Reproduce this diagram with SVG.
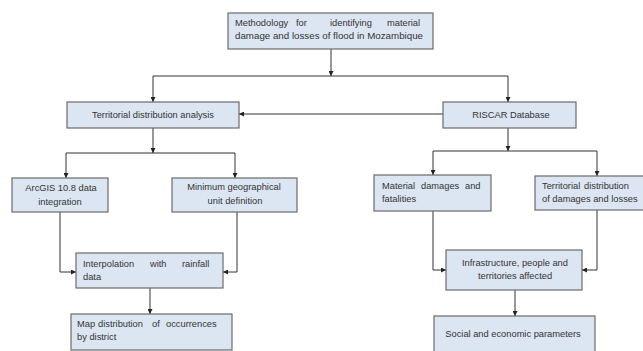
<svg xmlns="http://www.w3.org/2000/svg" width="643" height="351" viewBox="0 0 643 351">
<defs>
<marker id="ah" viewBox="0 0 8 8" refX="8" refY="4" markerWidth="5" markerHeight="5" orient="auto" markerUnits="userSpaceOnUse">
<path d="M0,0 L8,4 L0,8 z" fill="#222"/>
</marker>
<style>
.box{fill:#dce6f2;stroke:#6b6b6b;stroke-width:1.2}
.t{font-family:"Liberation Sans",Arial,sans-serif;font-size:9.3px;fill:#333}
.c{text-anchor:middle}
.ln{fill:none;stroke:#333;stroke-width:1}
.ar{fill:none;stroke:#333;stroke-width:1;marker-end:url(#ah)}
</style>
</defs>
<rect width="643" height="351" fill="#fff"/>
<g id="connectors">
<path class="ar" d="M331,49 V76"/>
<path class="ln" d="M153,76 H508"/>
<path class="ar" d="M153,76 V102"/>
<path class="ar" d="M508,76 V102"/>
<path class="ar" d="M443,114 H239"/>
<path class="ar" d="M153,128 V153"/>
<path class="ln" d="M66,153 H235"/>
<path class="ar" d="M66,153 V178"/>
<path class="ar" d="M235,153 V178"/>
<path class="ar" d="M508,128 V151"/>
<path class="ln" d="M433,151 H597"/>
<path class="ar" d="M433,151 V175"/>
<path class="ar" d="M597,151 V176"/>
<path class="ar" d="M60,212 V272 H76"/>
<path class="ar" d="M237,212 V272 H223"/>
<path class="ar" d="M150,288 V314"/>
<path class="ar" d="M433,211 V270 H446"/>
<path class="ar" d="M597,210 V270 H582"/>
<path class="ar" d="M515,290 V316"/>
</g>
<g id="n-top">
<rect class="box" x="228" y="13" width="205" height="36"/>
<text class="t" y="26"><tspan x="235">Methodology</tspan><tspan x="296">for</tspan><tspan x="330">identifying</tspan><tspan x="387">material</tspan></text>
<text class="t" x="235" y="39" textLength="188" lengthAdjust="spacingAndGlyphs">damage and losses of flood in Mozambique</text>
</g>
<g id="n-territorial">
<rect class="box" x="67" y="102" width="172" height="26"/>
<text class="t c" x="153" y="118">Territorial distribution  analysis</text>
</g>
<g id="n-riscar">
<rect class="box" x="443" y="102" width="133" height="26"/>
<text class="t c" x="511" y="118">RISCAR Database</text>
</g>
<g id="n-arcgis">
<rect class="box" x="12" y="178" width="96" height="34"/>
<text class="t c" x="61" y="191">ArcGIS 10.8 data</text>
<text class="t c" x="60" y="205">integration</text>
</g>
<g id="n-minimum">
<rect class="box" x="172" y="178" width="125" height="34"/>
<text class="t c" x="234" y="190">Minimum geographical</text>
<text class="t c" x="235" y="204">unit definition</text>
</g>
<g id="n-material">
<rect class="box" x="374" y="175" width="117" height="36"/>
<text class="t" y="189"><tspan x="382">Material</tspan><tspan x="421">damages</tspan><tspan x="465">and</tspan></text>
<text class="t" x="382" y="202">fatalities</text>
</g>
<g id="n-terrdist">
<rect class="box" x="535" y="176" width="120" height="34"/>
<text class="t" y="189"><tspan x="542">Territorial</tspan><tspan x="584">distribution</tspan></text>
<text class="t" x="542" y="202">of damages and losses</text>
</g>
<g id="n-interp">
<rect class="box" x="76" y="253" width="147" height="35"/>
<text class="t" y="267"><tspan x="83">Interpolation</tspan><tspan x="150">with</tspan><tspan x="182">rainfall</tspan></text>
<text class="t" x="83" y="280">data</text>
</g>
<g id="n-infra">
<rect class="box" x="446" y="250" width="136" height="40"/>
<text class="t c" x="515" y="266">Infrastructure, people and</text>
<text class="t c" x="515" y="279">territories affected</text>
</g>
<g id="n-map">
<rect class="box" x="71" y="314" width="161" height="36"/>
<text class="t" y="327"><tspan x="77">Map</tspan><tspan x="98">distribution</tspan><tspan x="152">of</tspan><tspan x="166">occurrences</tspan></text>
<text class="t" x="77" y="340">by district</text>
</g>
<g id="n-social">
<rect class="box" x="434" y="316" width="161" height="40"/>
<text class="t c" x="513" y="337">Social and economic parameters</text>
</g>
</svg>
